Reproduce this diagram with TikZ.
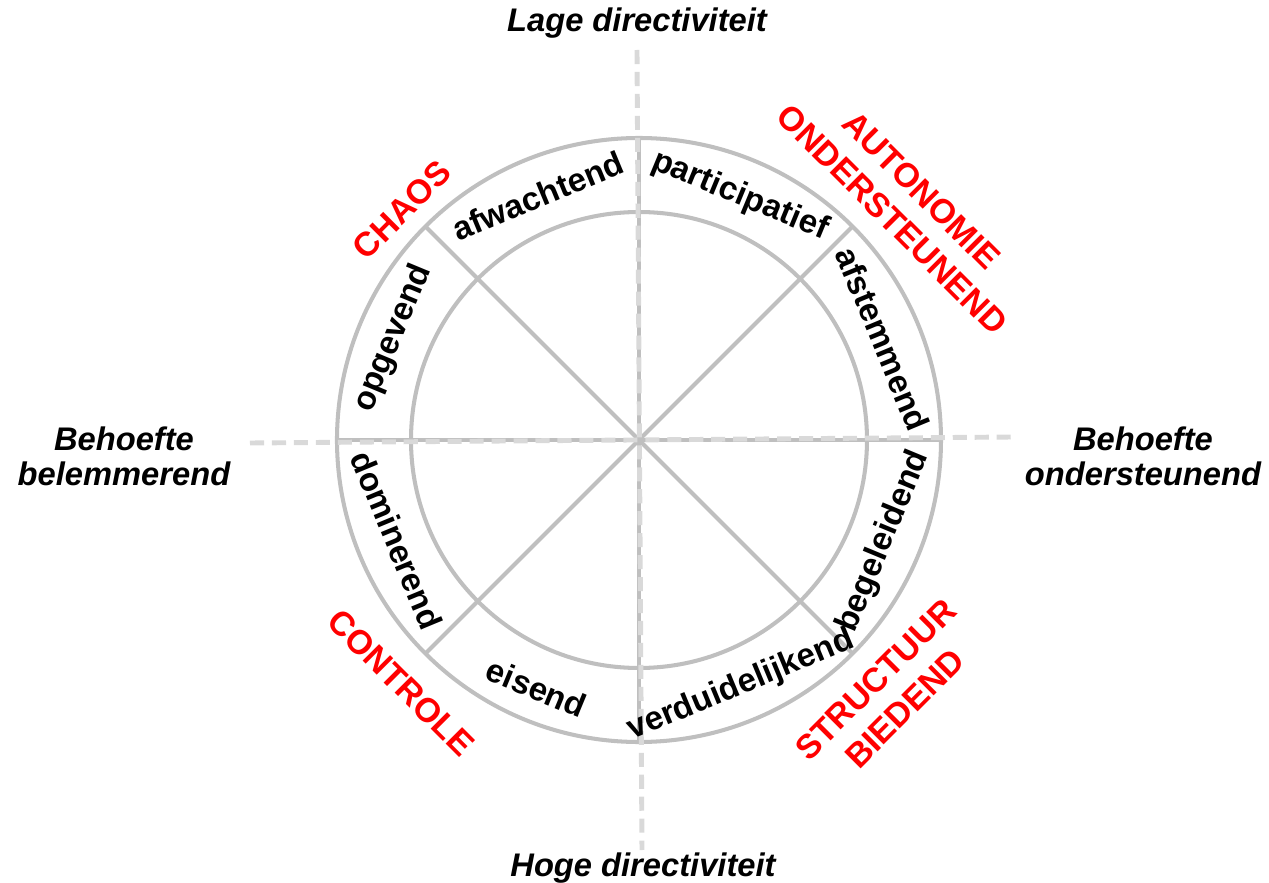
\documentclass[tikz,border=0pt]{standalone}
\usepackage{fontspec}
\setmainfont{Liberation Sans}
\begin{document}
\begin{tikzpicture}[x=0.02cm, y=0.02cm, font=\bfseries\fontsize{18.8}{21}\selectfont]
\tikzstyle{ring} = [draw=black!25, line width=2.3pt]
\tikzstyle{axis} = [draw=black!15, line width=2.8pt, dash pattern=on 8pt off 4.5pt]
\tikzstyle{seg} = [inner sep=0pt]
\tikzstyle{pole} = [text=red, align=center, inner sep=0pt, font=\bfseries\fontsize{19.3}{23.5}\selectfont]
\tikzstyle{dir} = [align=center, inner sep=0pt, font=\bfseries\itshape\fontsize{18.6}{20}\selectfont]

\useasboundingbox (-639,-443) rectangle (630,440);
\coordinate (M) at (0,0);

% wheel
\draw[ring] (M) circle [radius=302];
\draw[ring] (M) circle [radius=228];
\draw[ring] (-302,0) -- (302,0);
\draw[ring] (0,302) -- (0,-302);
\foreach \a in {45,135,225,315}
  \draw[ring] (M) -- (\a:302);

% axes
\draw[axis] (-2,390) -- (3,-410);
\draw[axis] (-389,-3) -- (374,3);

% styles on the ring
\node[seg, rotate=22.5] (afw) at (112.5:264) {afwachtend};
\node[seg, rotate=-22.5] (part) at (67.5:264) {participatief};
\node[seg, rotate=-67.5] (afst) at (22.5:264) {afstemmend};
\node[seg, rotate=67.5] (beg) at (-22.5:265) {begeleidend};
\node[seg, rotate=22.5] (verd) at (-67.5:266) {verduidelijkend};
\node[seg, rotate=-22.5] (eis) at (-112.5:268) {eisend};
\node[seg, rotate=-67.5] (dom) at (-157.5:262) {dominerend};
\node[seg, rotate=67.5] (opg) at (157.5:266) {opgevend};

% quadrants
\node[pole, rotate=45] (chaos) at (-237,230) {CHAOS};
\node[pole, rotate=-45] (auto) at (268,235) {AUTONOMIE\\ONDERSTEUNEND};
\node[pole, rotate=-45] (contr) at (-238,-243) {CONTROLE};
\node[pole, rotate=45] (struct) at (251,-254) {STRUCTUUR\\BIEDEND};

% axis labels
\node[dir] (lage) at (-2,417) {Lage directiviteit};
\node[dir] (hoge) at (4,-428) {Hoge directiviteit};
\node[dir] (bel) at (-515,-16) {Behoefte\\belemmerend};
\node[dir] (ond) at (504,-16) {Behoefte\\ondersteunend};
\end{tikzpicture}
\end{document}
